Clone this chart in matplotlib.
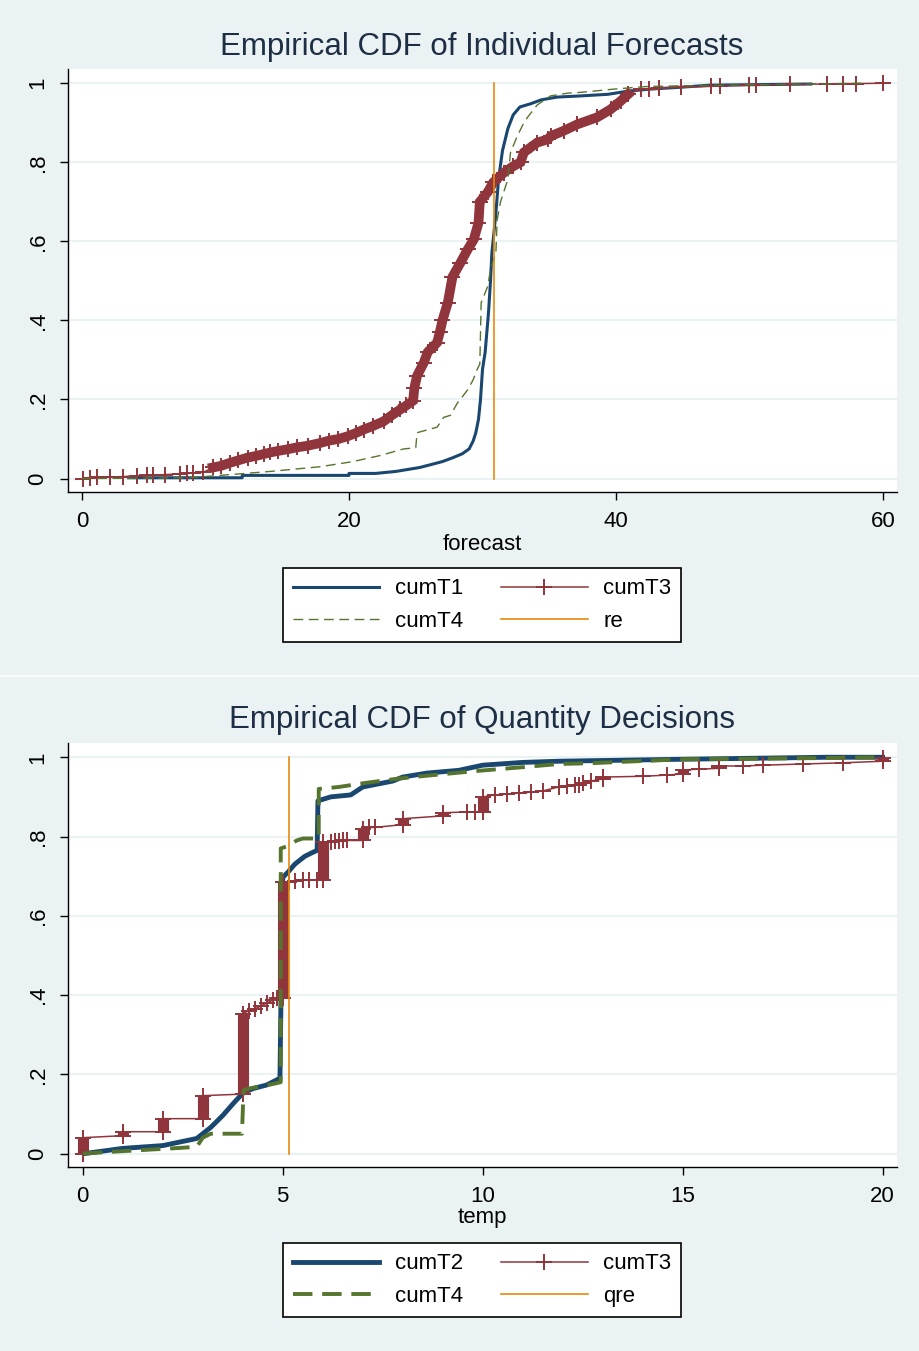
import numpy as np
import matplotlib.pyplot as plt
from matplotlib.lines import Line2D

plt.rcParams['font.family'] = ['Liberation Sans', 'DejaVu Sans']

# colours (Stata s2color)
navy = '#1A476F'
maroon = '#90353B'
green = '#55752F'
orange = '#E8890C'
bg = '#EAF2F3'
title_col = '#1E2F45'

# ---------------- top panel: forecasts ----------------
t1_x = [3.5, 12.0, 12.0, 20.0, 20.0, 22.0, 23.5, 24.4, 25.3, 26.1, 27.0, 27.8, 28.5, 29.0,
        29.3, 29.5, 29.7, 29.85, 30.0, 30.2, 30.45, 30.6, 30.7, 30.85, 31.0, 31.2, 31.5,
        31.9, 32.3, 32.8, 33.6, 34.4, 35.6, 37.4, 39.4, 40.9, 42.5, 44.9, 47.0, 54.6]
t1_y = [0.002, 0.002, 0.008, 0.008, 0.013, 0.013, 0.018, 0.023, 0.028, 0.035, 0.043, 0.053,
        0.063, 0.075, 0.095, 0.116, 0.15, 0.2, 0.276, 0.32, 0.42, 0.5, 0.57, 0.62, 0.67,
        0.757, 0.83, 0.885, 0.92, 0.94, 0.948, 0.958, 0.965, 0.968, 0.972, 0.98, 0.985,
        0.99, 0.995, 0.998]

t4_x = [0.0, 8.0, 11.1, 14.1, 17.85, 20.3, 22.3, 24.1, 25.0, 25.1, 26.6, 27.1, 27.6, 28.1,
        28.9, 29.3, 29.6, 29.8, 29.9, 30.4, 30.6, 31.0, 31.1, 31.35, 31.9, 32.1, 32.6, 33.1,
        33.4, 34.1, 35.1, 36.4, 37.4, 39.8, 42.4, 50.0, 58.7]
t4_y = [0.0, 0.002, 0.01, 0.018, 0.03, 0.043, 0.058, 0.075, 0.078, 0.116, 0.13, 0.155, 0.16,
        0.19, 0.225, 0.25, 0.276, 0.29, 0.445, 0.487, 0.53, 0.57, 0.655, 0.70, 0.757, 0.825,
        0.866, 0.90, 0.915, 0.945, 0.968, 0.975, 0.977, 0.985, 0.992, 0.996, 1.0]

t3_x = [0.1, 0.6, 1.1, 2.1, 3.1, 4.1, 4.9, 5.3, 6.2, 7.35, 7.9, 8.3, 9.1, 9.8, 10.4, 11.1,
        11.7, 12.4, 13.0, 13.6, 14.1, 14.7, 15.4, 16.1, 16.9, 17.85, 18.5, 19.2, 19.9, 20.5,
        21.1, 21.8, 22.6, 23.2, 23.85, 24.3, 24.8, 24.9, 25.1, 25.6, 25.9, 26.6, 26.8, 27.0,
        27.4, 27.75, 28.35, 28.9, 29.35, 29.7, 29.8, 30.4, 30.8, 31.6, 32.3, 32.85, 33.1,
        34.1, 34.9, 35.1, 36.1, 37.1, 38.6, 39.6, 40.35, 40.9, 41.85, 42.5, 43.2, 44.85,
        47.1, 47.8, 50.0, 50.5, 53.0, 55.8, 57.0, 58.0, 60.0]
t3_y = [0.0, 0.002, 0.003, 0.004, 0.005, 0.007, 0.008, 0.009, 0.01, 0.012, 0.013, 0.014,
        0.016, 0.028, 0.032, 0.04, 0.046, 0.053, 0.057, 0.062, 0.066, 0.07, 0.074, 0.079,
        0.083, 0.09, 0.096, 0.1, 0.107, 0.115, 0.124, 0.133, 0.145, 0.16, 0.175, 0.185,
        0.197, 0.23, 0.26, 0.293, 0.32, 0.344, 0.37, 0.40, 0.445, 0.51, 0.546, 0.58, 0.605,
        0.647, 0.70, 0.725, 0.749, 0.774, 0.79, 0.80, 0.825, 0.85, 0.858, 0.866, 0.88,
        0.896, 0.914, 0.934, 0.955, 0.972, 0.985, 0.986, 0.987, 0.99, 0.992, 0.993, 0.995,
        0.996, 0.997, 0.998, 0.999, 0.999, 1.0]
re_val = 30.85

# ---------------- bottom panel: quantity ----------------
q2_x = [0.05, 1.0, 2.0, 2.85, 3.2, 3.5, 3.76, 3.98, 4.05, 4.26, 4.6, 4.93, 4.97, 5.0, 5.13,
        5.3, 5.55, 5.75, 5.86, 5.88, 6.2, 6.7, 7.0, 7.75, 8.0, 8.6, 9.4, 10.0, 11.0, 11.9,
        15.0, 18.6, 20.0]
q2_y = [0.0, 0.013, 0.02, 0.038, 0.066, 0.096, 0.126, 0.15, 0.155, 0.164, 0.173, 0.19, 0.5,
        0.697, 0.71, 0.73, 0.75, 0.76, 0.765, 0.89, 0.9, 0.905, 0.925, 0.94, 0.95, 0.96,
        0.967, 0.98, 0.987, 0.99, 0.995, 1.0, 1.0]

q4_x = [0.0, 1.0, 2.4, 2.85, 3.0, 3.2, 3.98, 4.02, 4.2, 4.6, 4.95, 4.95, 5.1, 5.35, 5.5,
        5.9, 5.9, 6.4, 7.05, 7.8, 8.45, 9.8, 11.0, 11.9, 12.7, 15.0, 18.5, 20.0]
q4_y = [0.0, 0.006, 0.014, 0.017, 0.04, 0.05, 0.05, 0.16, 0.165, 0.172, 0.18, 0.77, 0.775,
        0.79, 0.795, 0.795, 0.92, 0.925, 0.935, 0.945, 0.952, 0.965, 0.975, 0.983, 0.985,
        0.995, 0.998, 1.0]

q3_x = [0, 0, 1, 1, 2, 2, 3, 3, 4, 4, 4.15, 4.3, 4.45, 4.6, 4.75, 4.85, 5, 5, 5.15, 5.3,
        5.5, 5.65, 5.85, 6, 6, 6.2, 6.3, 6.4, 6.5, 6.6, 7, 7, 7.15, 7.3, 8, 8, 9, 9, 9.6,
        9.8, 10, 10, 10.3, 10.6, 10.9, 11.2, 11.5, 11.9, 12.1, 12.3, 12.4, 12.5, 12.7, 13,
        13, 14, 14.6, 15, 15, 15.4, 15.9, 15.9, 16.5, 17, 18, 19, 20, 20]
q3_y = [0.0, 0.04, 0.045, 0.055, 0.055, 0.088, 0.088, 0.146, 0.15, 0.353, 0.36, 0.365,
        0.372, 0.38, 0.387, 0.393, 0.393, 0.684, 0.686, 0.688, 0.69, 0.69, 0.69, 0.69,
        0.785, 0.787, 0.788, 0.789, 0.79, 0.79, 0.79, 0.82, 0.823, 0.823, 0.83, 0.845,
        0.852, 0.86, 0.862, 0.862, 0.862, 0.90, 0.905, 0.907, 0.91, 0.912, 0.915, 0.925,
        0.927, 0.929, 0.93, 0.935, 0.94, 0.945, 0.95, 0.952, 0.955, 0.958, 0.968, 0.97,
        0.972, 0.978, 0.978, 0.98, 0.983, 0.986, 0.99, 0.997]
qre_val = 5.15

yticks = [0, 0.2, 0.4, 0.6, 0.8, 1.0]
ylabs = ['0', '.2', '.4', '.6', '.8', '1']


def style_axes(ax, xticks, xlim, xlabel, lpad):
    ax.set_facecolor('white')
    ax.set_xlim(*xlim)
    ax.set_ylim(-0.034, 1.036)
    ax.set_yticks(yticks)
    ax.set_yticklabels(ylabs, rotation=90, va='center')
    ax.set_xticks(xticks)
    ax.tick_params(axis='both', labelsize=16, length=6, width=1, pad=8, colors='black')
    for s in ['top', 'right']:
        ax.spines[s].set_visible(False)
    for s in ['left', 'bottom']:
        ax.spines[s].set_linewidth(1)
    ax.grid(axis='y', color=bg, lw=1.5)
    ax.set_axisbelow(True)
    ax.set_xlabel(xlabel, fontsize=16, labelpad=lpad)


def draw_t3(ax, xs, ys, ms, thick=None):
    xs = np.array(xs, float)
    ys = np.array(ys, float)
    ax.plot(xs, ys, color=maroon, lw=1.1, zorder=3)
    # stacked tied observations -> solid blocks
    for i in range(len(xs) - 1):
        if xs[i] == xs[i + 1]:
            ax.plot([xs[i], xs[i]], [ys[i], ys[i + 1]], color=maroon, lw=8,
                    solid_capstyle='butt', zorder=3)
    if thick is not None:
        m = (xs >= thick[0]) & (xs <= thick[1])
        ax.plot(xs[m], ys[m], color=maroon, lw=7, zorder=3, solid_joinstyle='miter')
    ax.plot(xs, ys, ls='none', marker='+', ms=ms, mew=1.4, color=maroon, zorder=3)


fig = plt.figure(figsize=(9.2, 13.51), dpi=100)
fig.patch.set_facecolor(bg)

# ---- top ----
ax1 = fig.add_axes([68 / 920, 1 - 492 / 1351, 829 / 920, 423 / 1351])
ax1.plot(t1_x, t1_y, color=navy, lw=2.2, zorder=3)
draw_t3(ax1, t3_x, t3_y, 11, thick=(9.5, 41.0))
ax1.plot(t4_x, t4_y, color=green, lw=1.0, dashes=(7, 4), zorder=3)
ax1.plot([re_val, re_val], [0, 1], color=orange, lw=1.2, zorder=4)
style_axes(ax1, [0, 20, 40, 60], (-1.05, 61.05), 'forecast', 1)
fig.text(482 / 920, 1 - 47 / 1351, 'Empirical CDF of Individual Forecasts',
         ha='center', va='center', fontsize=22.5, color=title_col)

h1 = [Line2D([], [], color=navy, lw=2.2),
      Line2D([], [], color=green, lw=1.0, dashes=(7, 4)),
      Line2D([], [], color=maroon, lw=1.1, marker='+', ms=11, mew=1.4, markevery=[1]),
      Line2D([], [], color=orange, lw=1.2)]
l1 = ['cumT1', 'cumT4', 'cumT3', 're']

# ---- bottom ----
ax2 = fig.add_axes([68 / 920, 1 - 1167 / 1351, 829 / 920, 424 / 1351])
ax2.plot(q2_x, q2_y, color=navy, lw=3.5, zorder=3)
draw_t3(ax2, q3_x, q3_y, 11)
ax2.plot(q4_x, q4_y, color=green, lw=2.8, dashes=(5, 2.5), zorder=3)
ax2.plot([qre_val, qre_val], [0, 1], color=orange, lw=1.2, zorder=4)
style_axes(ax2, [0, 5, 10, 15, 20], (-0.37, 20.36), 'temp', 0)
fig.text(482 / 920, 1 - 720 / 1351, 'Empirical CDF of Quantity Decisions',
         ha='center', va='center', fontsize=22.5, color=title_col)

h2 = [Line2D([], [], color=navy, lw=3.5),
      Line2D([], [], color=green, lw=2.8, dashes=(5, 2.5)),
      Line2D([], [], color=maroon, lw=1.1, marker='+', ms=11, mew=1.4, markevery=[1]),
      Line2D([], [], color=orange, lw=1.2)]
l2 = ['cumT2', 'cumT4', 'cumT3', 'qre']

for hs, ls, yc in [(h1, l1, 605), (h2, l2, 1280)]:
    for h in hs:
        h.set_xdata([0, 0.5, 1])
        h.set_ydata([0, 0, 0])
    leg = fig.legend(hs, ls, loc='center', bbox_to_anchor=(482 / 920, 1 - yc / 1351),
                     ncol=2, fontsize=16, frameon=True, fancybox=False, edgecolor='black',
                     facecolor='white', framealpha=1, handlelength=3.9, columnspacing=1.7,
                     handletextpad=0.7, borderpad=0.45, labelspacing=0.5)
    leg.get_frame().set_linewidth(1.2)

# thin white separator between the two graphs
fig.add_artist(Line2D([0, 1], [1 - 676 / 1351] * 2, color='white', lw=1.2))

fig.savefig('out.png', dpi=100, facecolor=bg)
